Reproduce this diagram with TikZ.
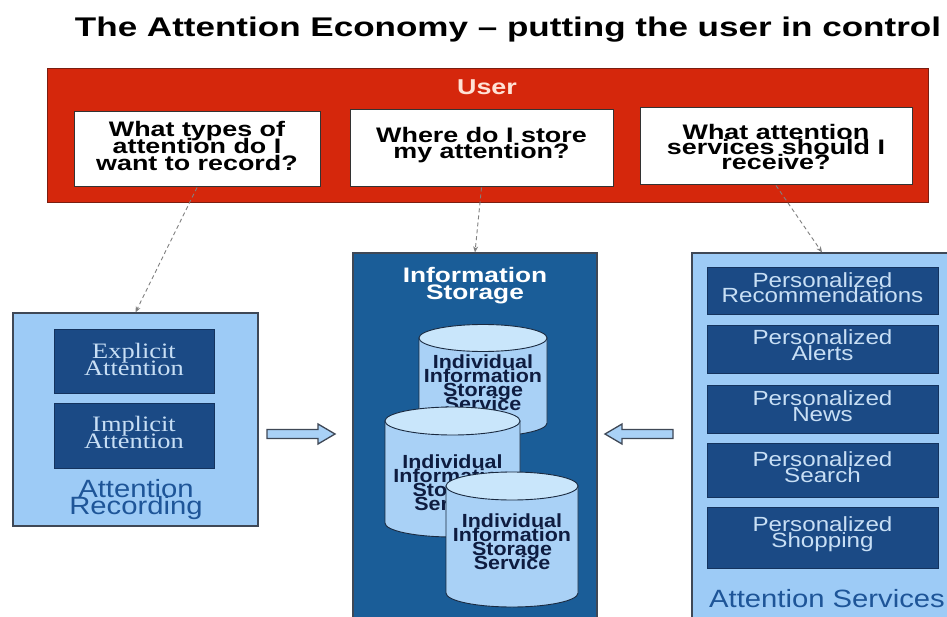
\documentclass[tikz,border=0pt]{standalone}
\usepackage{fontspec}
\usepackage{graphicx}
\setmainfont{Liberation Sans}
\newfontfamily\serifx{Liberation Serif}
\usetikzlibrary{arrows.meta}
\definecolor{ured}{HTML}{D5270C}
\definecolor{uredline}{HTML}{7A1E10}
\definecolor{lblue}{HTML}{9DCBF6}
\definecolor{dblue}{HTML}{1B4A85}
\definecolor{dbord}{HTML}{14335E}
\definecolor{mblue}{HTML}{1A5D98}
\definecolor{pbord}{HTML}{3F4856}
\definecolor{ptext}{HTML}{C8DFF5}
\definecolor{ctext}{HTML}{1E5598}
\definecolor{cylbody}{HTML}{A9D1F6}
\definecolor{cyltop}{HTML}{C9E6FB}
\definecolor{cylbord}{HTML}{1A2A40}
\definecolor{cyltext}{HTML}{0E1C40}
\definecolor{usertext}{HTML}{FFE2D6}
\definecolor{connc}{HTML}{808080}
\newcommand{\stk}[3]{\scalebox{#1}[1]{\vbox{\baselineskip=#2pt\lineskiplimit=-100pt\lineskip=0pt\halign{\hfil##\hfil\cr#3\crcr}}}}
\begin{document}
\begin{tikzpicture}[x=1pt,y=-1pt,
  qbox/.style={draw=black!80, fill=white, line width=1pt, inner sep=0pt},
  qtext/.style={font=\fontsize{21}{16}\bfseries\selectfont, text=black, inner sep=0pt, anchor=base},
  panel/.style={draw=pbord, line width=1.2pt, inner sep=0pt},
  dbox/.style={draw=dbord, fill=dblue, line width=0.8pt, inner sep=0pt},
  ptxt/.style={font=\fontsize{20.5}{20.5}\selectfont, text=ptext, inner sep=0pt, anchor=base},
  stxt/.style={font=\serifx\fontsize{22}{22}\selectfont, text=ptext, inner sep=0pt, anchor=base},
  ctitle/.style={font=\fontsize{25}{25}\selectfont, text=ctext, inner sep=0pt, anchor=base},
  cyltxt/.style={font=\fontsize{19}{19}\bfseries\selectfont, text=cyltext, inner sep=0pt, anchor=base},
  cylb/.style={draw=cylbord, fill=cylbody, line width=0.9pt},
  cylt/.style={draw=cylbord, fill=cyltop, line width=0.9pt},
  barrow/.style={draw=pbord, fill=cylbody, line width=1.3pt, line join=miter},
  conn/.style={draw=connc, line width=0.9pt, dash pattern=on 4pt off 3pt, -{Stealth[length=6pt,width=5pt]}}
]
\useasboundingbox (0,0) rectangle (947,617);
\fill[white] (0,0) rectangle (947,617);

% title
\node[anchor=base, inner sep=0pt, font=\fontsize{27}{27}\bfseries\selectfont] (title) at (508,37)
  {\resizebox{866pt}{\height}{The Attention Economy – putting the user in control}};

% user bar
\node[draw=uredline, fill=ured, line width=1pt, minimum width=881pt, minimum height=134pt, inner sep=0pt] (user) at (487.5,135.5) {};
\node[font=\fontsize{21.5}{21.5}\bfseries\selectfont, text=usertext, inner sep=0pt] (ulabel) at (487,87) {\scalebox{1.25}[1]{User}};

\node[qbox, minimum width=246pt, minimum height=75pt] (q1) at (197,149.5) {};
\node[qtext] (q1t) at (197,171) {\stk{1.28}{17}{What types of\cr attention do I\cr want to record?}};
\node[qbox, minimum width=263pt, minimum height=77pt] (q2) at (481.5,148.5) {};
\node[qtext] (q2t) at (481.5,159) {\stk{1.28}{16}{Where do I store\cr my attention?}};
\node[qbox, minimum width=272pt, minimum height=77pt] (q3) at (776,146.5) {};
\node[qtext] (q3t) at (776,170) {\stk{1.28}{15}{What attention\cr services should I\cr receive?}};

% attention recording
\node[panel, fill=lblue, minimum width=245pt, minimum height=213pt] (rec) at (135.5,419.5) {};
\node[dbox, minimum width=160pt, minimum height=64pt] (expl) at (134,361) {};
\node[stxt] (explt) at (134,375) {\stk{1.2}{17}{Explicit\cr Attention}};
\node[dbox, minimum width=160pt, minimum height=65pt] (impl) at (134,435.5) {};
\node[stxt] (implt) at (134,448) {\stk{1.2}{17}{Implicit\cr Attention}};
\node[ctitle] (recl) at (136,514) {\stk{1.17}{17}{Attention\cr Recording}};

% information storage
\node[panel, fill=mblue, minimum width=244pt, minimum height=380pt] (stor) at (475,443) {};
\node[font=\fontsize{21}{21}\bfseries\selectfont, text=white, inner sep=0pt, anchor=base] (storl) at (475,300) {\stk{1.25}{17}{Information\cr Storage}};

% cylinder 1
\path[cylb] (419,338) -- (419,423) arc[start angle=180, end angle=360, x radius=64pt, y radius=13.5pt] -- (547,338) -- cycle;
\path[cylt] (483,338) ellipse [x radius=64pt, y radius=13.5pt];
\node[cyltxt] (c1t) at (483,410) {\stk{1.13}{14}{Individual\cr Information\cr Storage\cr Service}};
% cylinder 2
\path[cylb] (385,421) -- (385,523) arc[start angle=180, end angle=360, x radius=67.5pt, y radius=14pt] -- (520,421) -- cycle;
\path[cylt] (452.5,421) ellipse [x radius=67.5pt, y radius=14pt];
\node[cyltxt] (c2t) at (452.5,510) {\stk{1.13}{14}{Individual\cr Information\cr Storage\cr Service}};
% cylinder 3
\path[cylb] (446,486) -- (446,593) arc[start angle=180, end angle=360, x radius=66pt, y radius=14pt] -- (578,486) -- cycle;
\path[cylt] (512,486) ellipse [x radius=66pt, y radius=14pt];
\node[cyltxt] (c3t) at (512,569) {\stk{1.13}{14}{Individual\cr Information\cr Storage\cr Service}};

% attention services
\node[panel, fill=lblue, minimum width=260pt, minimum height=380pt] (serv) at (822,443) {};
\node[dbox, minimum width=231pt, minimum height=47pt] (s1) at (822.5,290.5) {};
\node[ptxt] (s1t) at (822.5,303) {\stk{1.18}{15}{Personalized\cr Recommendations}};
\node[dbox, minimum width=231pt, minimum height=48pt] (s2) at (822.5,349) {};
\node[ptxt] (s2t) at (822.5,360) {\stk{1.18}{16}{Personalized\cr Alerts}};
\node[dbox, minimum width=231pt, minimum height=48pt] (s3) at (822.5,409) {};
\node[ptxt] (s3t) at (822.5,421) {\stk{1.18}{16}{Personalized\cr News}};
\node[dbox, minimum width=231pt, minimum height=54pt] (s4) at (822.5,470) {};
\node[ptxt] (s4t) at (822.5,482) {\stk{1.18}{16}{Personalized\cr Search}};
\node[dbox, minimum width=231pt, minimum height=61pt] (s5) at (822.5,537.5) {};
\node[ptxt] (s5t) at (822.5,547) {\stk{1.18}{16}{Personalized\cr Shopping}};
\node[ctitle] (servl) at (827,607) {\scalebox{1.17}[1]{Attention Services}};

% block arrows
\draw[barrow] (267,429.5) -- (318,429.5) -- (318,424) -- (335,434) -- (318,444) -- (318,438.5) -- (267,438.5) -- cycle;
\draw[barrow] (673,429.5) -- (622,429.5) -- (622,424) -- (605,434) -- (622,444) -- (622,438.5) -- (673,438.5) -- cycle;

% connectors
\draw[conn] (q1.south) -- (rec.north);
\draw[conn] (q2.south) -- (stor.north);
\draw[conn] (q3.south) -- (serv.north);
\end{tikzpicture}
\end{document}
